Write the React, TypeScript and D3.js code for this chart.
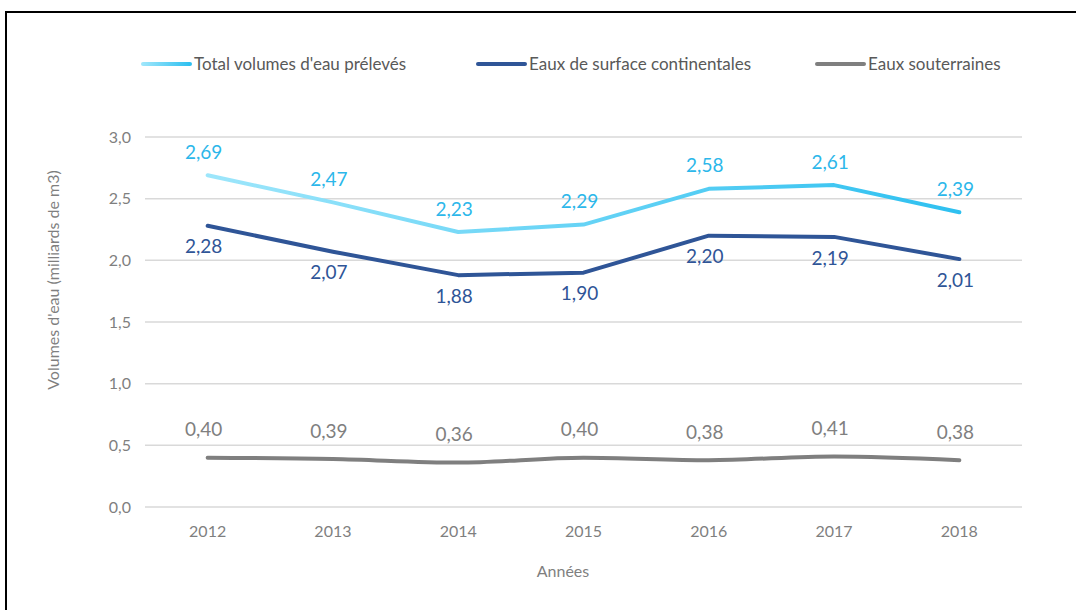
import React from 'react';
import { scalePoint, scaleLinear, line, curveMonotoneX, curveLinear } from 'd3';

const years = ['2012', '2013', '2014', '2015', '2016', '2017', '2018'];
const totalValues = [2.69, 2.47, 2.23, 2.29, 2.58, 2.61, 2.39];
const surfaceValues = [2.28, 2.07, 1.88, 1.90, 2.20, 2.19, 2.01];
const groundValues = [0.40, 0.39, 0.36, 0.40, 0.38, 0.41, 0.38];
const yTicks = [0, 0.5, 1, 1.5, 2, 2.5, 3];

const seriesNames = ["Total volumes d'eau prélevés", 'Eaux de surface continentales', 'Eaux souterraines'];

const fmt = (v: number, d: number) => v.toFixed(d).replace('.', ',');

const App = () => {
  const width = 1076;
  const height = 610;
  const left = 145;
  const right = 1022;
  const top = 137;
  const bottom = 507;
  const font = 'Lato, "Open Sans", sans-serif';

  const x = scalePoint<string>().domain(years).range([left, right]).padding(0.5);
  const y = scaleLinear().domain([0, 3]).range([bottom, top]);

  const mk = (vals: number[], curve: any) =>
    line<number>()
      .x((_, i) => x(years[i]) as number)
      .y(d => y(d))
      .curve(curve)(vals) as string;

  const series = [
    { name: seriesNames[0], vals: totalValues, stroke: 'url(#totalGrad)', label: '#2cb7ea', dy: -23, curve: curveLinear, lx: 143 },
    { name: seriesNames[1], vals: surfaceValues, stroke: '#2f5597', label: '#2f5597', dy: 21, curve: curveLinear, lx: 478 },
    { name: seriesNames[2], vals: groundValues, stroke: '#7f7f7f', label: '#7f7f7f', dy: -28, curve: curveMonotoneX, lx: 817 },
  ];

  return (
    <div style={{ position: 'absolute', left: 0, top: 0 }}>
      <svg width={width} height={height} style={{ display: 'block', fontFamily: font }}>
        <defs>
          <linearGradient id="totalGrad" gradientUnits="userSpaceOnUse" x1={x('2012')} x2={x('2018')} y1={0} y2={0}>
            <stop offset="0" stopColor="#9de6fb" />
            <stop offset="1" stopColor="#2ec0f0" />
          </linearGradient>
          <linearGradient id="legendGrad" gradientUnits="userSpaceOnUse" x1={143} x2={190} y1={0} y2={0}>
            <stop offset="0" stopColor="#9de6fb" />
            <stop offset="1" stopColor="#2ec0f0" />
          </linearGradient>
        </defs>
        <rect x={6} y={12} width={1200} height={800} fill="#fff" stroke="#000" strokeWidth={2} />

        {/* legend */}
        {series.map((s, i) => (
          <g key={s.name}>
            <line x1={s.lx} x2={s.lx + 47} y1={64} y2={64}
              stroke={i === 0 ? 'url(#legendGrad)' : s.stroke} strokeWidth={4} strokeLinecap="round" />
            <text x={s.lx + 51} y={64} dy="0.35em" fontSize={17} fill="#595959">{s.name}</text>
          </g>
        ))}

        {/* grid + y ticks */}
        {yTicks.map(t => (
          <g key={t}>
            <line x1={left} x2={right} y1={y(t)} y2={y(t)} stroke="#d9d9d9" strokeWidth={1.5} />
            <text x={131} y={y(t)} dy="0.35em" textAnchor="end" fontSize={16} fill="#7f7f7f">{fmt(t, 1)}</text>
          </g>
        ))}

        {/* x ticks */}
        {years.map(yr => (
          <text key={yr} x={x(yr)} y={531} dy="0.35em" textAnchor="middle" fontSize={16} fill="#7f7f7f">{yr}</text>
        ))}

        {/* axis titles */}
        <text x={563} y={571} dy="0.35em" textAnchor="middle" fontSize={16} fill="#7f7f7f">Années</text>
        <text transform="translate(53, 280) rotate(-90)" textAnchor="middle" dy="0.35em"
          fontSize={16} fill="#7f7f7f">Volumes d'eau (milliards de m3)</text>

        {/* lines */}
        {series.map(s => (
          <path key={s.name} d={mk(s.vals, s.curve)} fill="none" stroke={s.stroke} strokeWidth={4}
            strokeLinecap="round" strokeLinejoin="round" />
        ))}

        {/* data labels */}
        {series.map(s =>
          s.vals.map((v, i) => (
            <text key={`${s.name}-${i}`} x={(x(years[i]) as number) - 4} y={y(v) + s.dy} dy="0.35em"
              textAnchor="middle" fontSize={19} fill={s.label}>{fmt(v, 2)}</text>
          ))
        )}
      </svg>
    </div>
  );
};

export default App;
